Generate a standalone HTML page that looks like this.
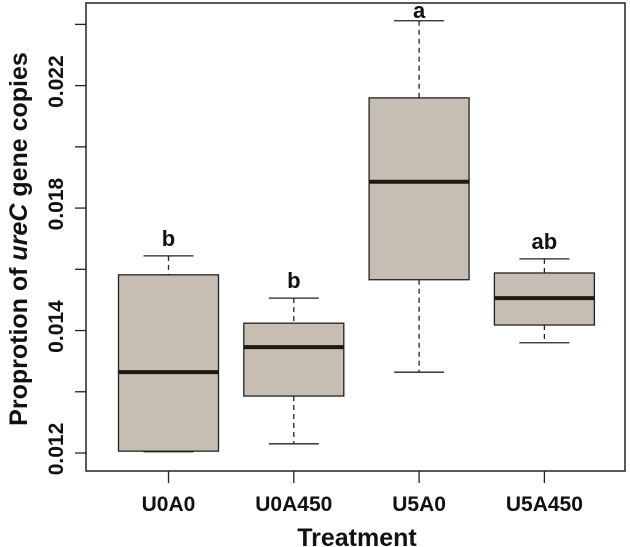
<!DOCTYPE html>
<html><head><meta charset="utf-8">
<style>
html,body{margin:0;padding:0;background:#fff;}
svg{display:block;font-family:"Liberation Sans",Arial,sans-serif;font-weight:bold;}
</style></head>
<body>
<svg id="chart" width="630" height="547" viewBox="0 0 630 547" xmlns="http://www.w3.org/2000/svg">
<rect x="86" y="3" width="539" height="468" fill="none" stroke="#222" stroke-width="1.5"/>
<g id="marks"></g>
<text x="357" y="546" text-anchor="middle" font-size="25" fill="#111">Treatment</text>
<text transform="translate(27,239) rotate(-90)" text-anchor="middle" font-size="25" fill="#111">Proprotion of <tspan font-style="italic">ureC</tspan> gene copies</text>
</svg>
<script>
const categories = ["U0A0","U0A450","U5A0","U5A450"];
const whiskerLow = [0.01202,0.01215,0.01332,0.01380];
const q1Values   = [0.01203,0.01293,0.01483,0.01409];
const medians    = [0.01332,0.01373,0.01643,0.01453];
const q3Values   = [0.01491,0.01412,0.01780,0.01494];
const whiskerHigh= [0.01522,0.01453,0.01906,0.01517];
const sigLetters = ["b","b","a","ab"];
const yTickValues = [0.012,0.013,0.014,0.015,0.016,0.017,0.018,0.019];
const yTickLabels = ["0.012","","0.014","","0.018","","0.022",""];

const NS="http://www.w3.org/2000/svg";
const g=document.getElementById('marks');
function y(v){return 453-(v-0.012)/0.001*61.23;}
function x(i){return 168.5+i*125.3;}
function mk(tag,attrs,parent){const e=document.createElementNS(NS,tag);for(const k in attrs)e.setAttribute(k,attrs[k]);(parent||g).appendChild(e);return e;}

yTickValues.forEach((v,i)=>{
  const t=mk('line',{x1:75,x2:86,y1:y(v),y2:y(v),stroke:'#222','stroke-width':1.3});
  
  
  if(yTickLabels[i]){
    const l=mk('text',{transform:`translate(63,${y(v)-4}) rotate(-90)`,'text-anchor':'middle','font-size':21,fill:'#111'});
    l.textContent=yTickLabels[i];
    
    
  }
});

categories.forEach((c,i)=>{
  const cx=x(i);
  const grp=mk('g',{});
  
  
  mk('line',{x1:cx,x2:cx,y1:y(whiskerHigh[i]),y2:y(q3Values[i]),stroke:'#222','stroke-width':1.3,'stroke-dasharray':'5,4'},grp);
  mk('line',{x1:cx,x2:cx,y1:y(q1Values[i]),y2:y(whiskerLow[i]),stroke:'#222','stroke-width':1.3,'stroke-dasharray':'5,4'},grp);
  mk('line',{x1:cx-25,x2:cx+25,y1:y(whiskerHigh[i]),y2:y(whiskerHigh[i]),stroke:'#222','stroke-width':1.3},grp);
  mk('line',{x1:cx-25,x2:cx+25,y1:y(whiskerLow[i]),y2:y(whiskerLow[i]),stroke:'#222','stroke-width':1.3},grp);
  mk('rect',{x:cx-50,y:y(q3Values[i]),width:100,height:y(q1Values[i])-y(q3Values[i]),fill:'#c6bdb3',stroke:'#222','stroke-width':1.3},grp);
  mk('line',{x1:cx-50,x2:cx+50,y1:y(medians[i]),y2:y(medians[i]),stroke:'#1e1a12','stroke-width':4},grp);
  const lt=mk('text',{x:cx,y:Math.max(18,y(whiskerHigh[i])-10),'text-anchor':'middle','font-size':22,fill:'#111'});
  lt.textContent=sigLetters[i];
  
  
  const xt=mk('line',{x1:cx,x2:cx,y1:471,y2:483,stroke:'#222','stroke-width':1.3});
  
  
  const xl=mk('text',{x:cx,y:511,'text-anchor':'middle','font-size':21,fill:'#111'});
  xl.textContent=c;
  
  
});
</script>
</body></html>
